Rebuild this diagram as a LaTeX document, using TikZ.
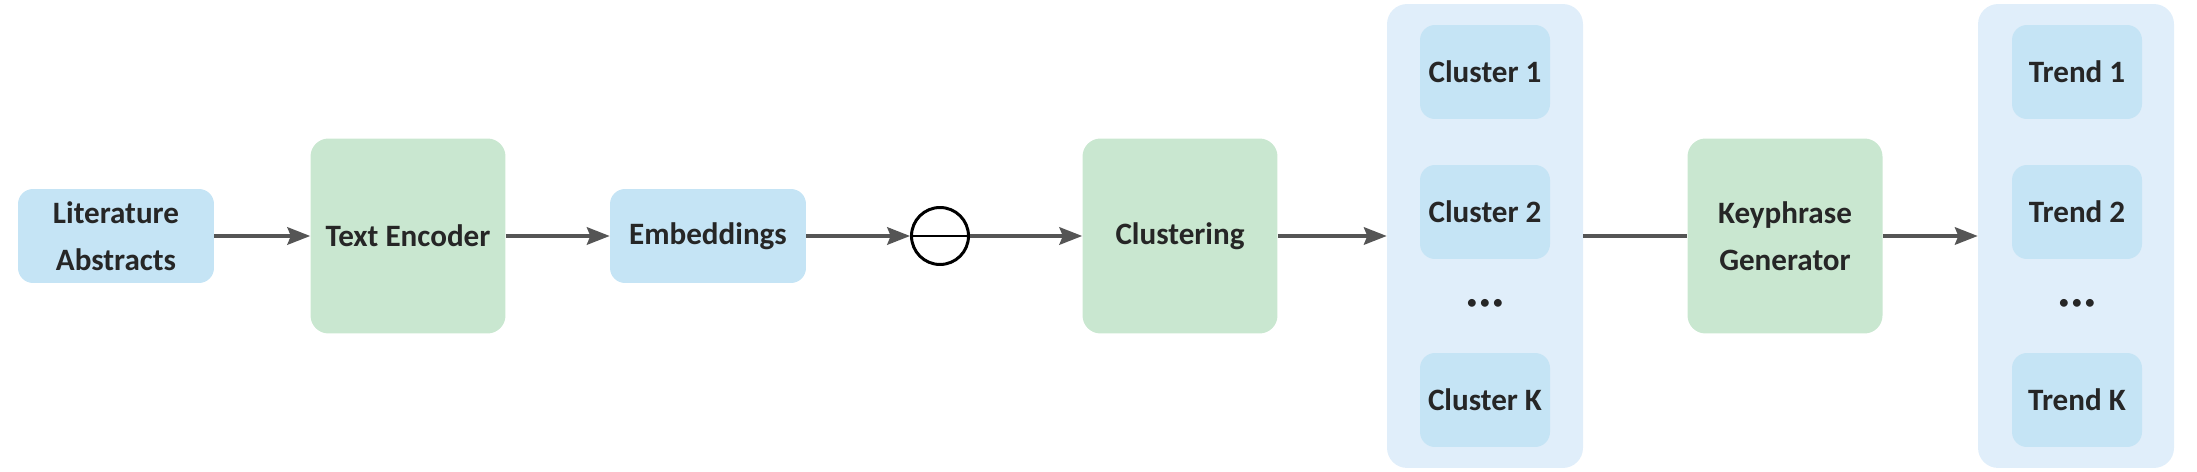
\documentclass[tikz,border=0pt]{standalone}
\usepackage{fontspec}
\setmainfont{Carlito}
\usetikzlibrary{arrows.meta}
\definecolor{boxblue}{HTML}{C5E4F5}
\definecolor{boxgreen}{HTML}{C9E7D0}
\definecolor{panelblue}{HTML}{E0EEFA}
\definecolor{linegray}{HTML}{555555}
\definecolor{txt}{HTML}{262626}
\newcommand{\moredots}{{\fontsize{10.5}{10.5}\selectfont •\kern2.2pt•\kern2.2pt•}}
\begin{document}
\begin{tikzpicture}[x=0.02cm, y=-0.02cm]
\tikzstyle{every node}=[font=\fontsize{17.7}{26.8}\selectfont\bfseries, text=txt, align=center, inner sep=0pt]
\tikzstyle{blk}=[fill=boxblue, rounded corners=0.3cm, minimum width=3.92cm, minimum height=1.88cm]
\tikzstyle{sub}=[blk, minimum width=2.6cm]
\tikzstyle{proc}=[fill=boxgreen, rounded corners=0.36cm, minimum width=3.9cm, minimum height=3.9cm]
\tikzstyle{panel}=[fill=panelblue, rounded corners=0.4cm, minimum width=3.92cm, minimum height=9.28cm]
\tikzstyle{flow}=[draw=linegray, line width=1.8pt, -{Stealth[length=13pt, width=10pt, inset=2pt]}]
\useasboundingbox (0,0) rectangle (2197,472);
\node [blk] (lit) at (116, 236) {Literature\\Abstracts};
\node [proc] (enc) at (408, 236) {Text Encoder};
\node [blk] (emb) at (708, 236) {Embeddings};
\node [circle, draw=black, line width=1.7pt, minimum size=1.14cm] (diff) at (940, 236) {};
\node [proc] (clu) at (1180, 236) {Clustering};
\node [panel] (cpanel) at (1485, 236) {};
\node [sub] (c1) at (1485, 72) {Cluster 1};
\node [sub] (c2) at (1485, 212) {Cluster 2};
\node (cdots) at (1485, 304) {\moredots};
\node [sub] (ck) at (1485, 400) {Cluster K};
\node [proc] (key) at (1785, 236) {Keyphrase\\Generator};
\node [panel] (tpanel) at (2076, 236) {};
\node [sub] (t1) at (2077, 72) {Trend 1};
\node [sub] (t2) at (2077, 212) {Trend 2};
\node (tdots) at (2077, 304) {\moredots};
\node [sub] (tk) at (2077, 400) {Trend K};
\draw [flow] (lit) -- (enc);
\draw [flow] (enc) -- (emb);
\draw [flow] (emb) -- (diff);
\draw [black, line width=1.7pt] (diff.west) -- (diff.east);
\draw [flow] (diff) -- (clu);
\draw [flow] (clu) -- (cpanel);
\draw [draw=linegray, line width=1.8pt] (cpanel) -- (key);
%\draw [flow] (cpanel) -- (key);
\draw [flow] (key) -- (tpanel);
\end{tikzpicture}
\end{document}
